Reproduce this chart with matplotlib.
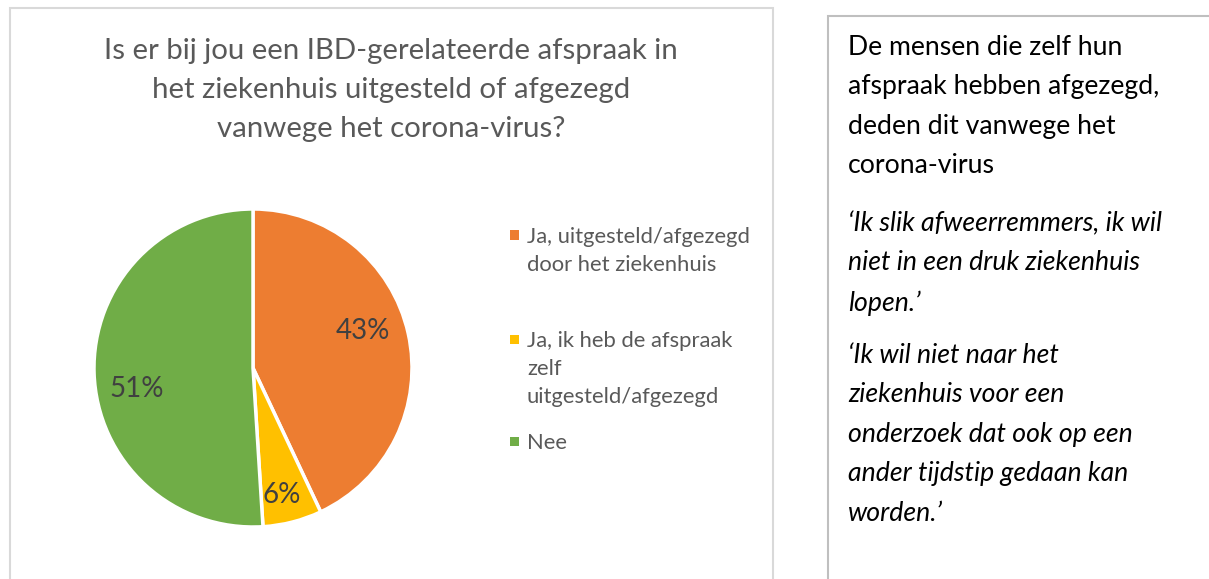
import matplotlib.pyplot as plt
from matplotlib.patches import Rectangle

W, H = 1209, 579

title = "Is er bij jou een IBD-gerelateerde afspraak in\nhet ziekenhuis uitgesteld of afgezegd\nvanwege het corona-virus?"
categories = ["Ja, uitgesteld/afgezegd\ndoor het ziekenhuis",
              "Ja, ik heb de afspraak\nzelf\nuitgesteld/afgezegd",
              "Nee"]
shares = [43, 6, 51]
colors = ["#ED7D31", "#FFC000", "#70AD47"]

side_intro = "De mensen die zelf hun\nafspraak hebben afgezegd,\ndeden dit vanwege het\ncorona-virus"
quote_1 = "\u2018Ik slik afweerremmers, ik wil\nniet in een druk ziekenhuis\nlopen.\u2019"
quote_2 = "\u2018Ik wil niet naar het\nziekenhuis voor een\nonderzoek dat ook op een\nander tijdstip gedaan kan\nworden.\u2019"

plt.rcParams['font.family'] = ['Lato', 'DejaVu Sans']


def fx(px):
    return px / W


def fy(py):
    return 1 - py / H


fig = plt.figure(figsize=(W / 100, H / 100), dpi=100)

# panel borders
fig.patches.append(Rectangle((fx(10), fy(590)), fx(763), 582 / H, transform=fig.transFigure,
                             fill=False, edgecolor="#D9D9D9", linewidth=1.5))
fig.patches.append(Rectangle((fx(828), fy(590)), fx(400), 574 / H, transform=fig.transFigure,
                             fill=False, edgecolor="#BFBFBF", linewidth=1.5))

# pie
r = 159
ax = fig.add_axes([fx(253 - r), (H - 368 - r) / H, 2 * r / W, 2 * r / H])
wedges, texts, autotexts = ax.pie(shares, colors=colors, startangle=90, counterclock=False,
                                  autopct=lambda p: f"{p:.0f}%", pctdistance=0.72,
                                  wedgeprops=dict(edgecolor="white", linewidth=2.5),
                                  textprops=dict(color="#404040", fontsize=20))
# excel-style label placement
label_pos = [(0.69, 0.23), (0.18, -0.80), (-0.73, -0.13)]
for t, pos in zip(autotexts, label_pos):
    t.set_position(pos)
ax.set_aspect("equal")
ax.set_xlim(-1, 1)
ax.set_ylim(-1, 1)

# title
fig.text(fx(391), fy(90), title, ha="center", va="center", fontsize=21.2,
         color="#595959", linespacing=1.63)

# legend
leg_y = [235, 339, 441]
for lab, c, y in zip(categories, colors, leg_y):
    fig.patches.append(Rectangle((fx(510), fy(y + 4.5)), fx(9), 9 / H, transform=fig.transFigure,
                                 facecolor=c, edgecolor="none"))
    fig.text(fx(527), fy(y - 8), lab, ha="left", va="top", fontsize=15.8, color="#595959",
             linespacing=1.49)

# right-hand text box
fig.text(fx(848), fy(35), side_intro, ha="left", va="top", fontsize=19.2, color="black",
         linespacing=1.72)
fig.text(fx(848), fy(211), quote_1, ha="left", va="top", fontsize=19.2, color="black",
         style="italic", linespacing=1.72)
fig.text(fx(848), fy(343), quote_2, ha="left", va="top", fontsize=19.2, color="black",
         style="italic", linespacing=1.72)

fig.savefig("out.png", dpi=100)
